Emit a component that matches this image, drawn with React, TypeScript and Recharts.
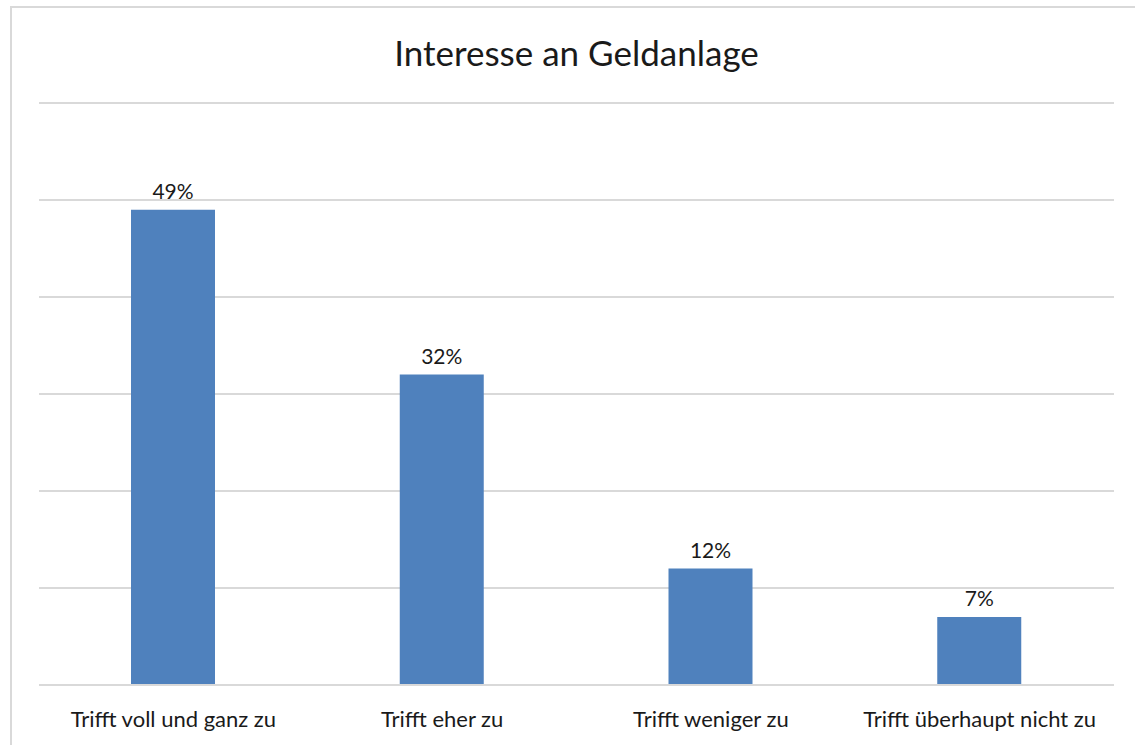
import React from 'react';
import { BarChart, Bar, XAxis, YAxis, CartesianGrid, LabelList } from 'recharts';

const categories = ['Trifft voll und ganz zu', 'Trifft eher zu', 'Trifft weniger zu', 'Trifft überhaupt nicht zu'];
const values = [49, 32, 12, 7];
const yTicks = [0, 10, 20, 30, 40, 50, 60];

const data = categories.map((name, i) => ({ name, value: values[i] }));

const FONT = 'Lato, "Open Sans", sans-serif';

export default function App() {
    return (
        <div style={{ position: 'absolute', left: 0, top: 0, width: 1135, height: 745, overflow: 'hidden', background: '#fff', fontFamily: FONT }}>
            {/* chart frame, right and bottom edges fall outside the picture */}
            <div style={{ position: 'absolute', left: 10, top: 6, width: 1140, height: 760, border: '2px solid #d9d9d9', boxSizing: 'border-box' }} />
            <div style={{ position: 'absolute', left: 39, width: 1075, top: 31, textAlign: 'center', fontSize: 35, lineHeight: '42px', color: '#1a1a1a' }}>
                Interesse an Geldanlage
            </div>
            <div style={{ position: 'absolute', left: 0, top: 0 }}>
                <BarChart width={1135} height={745} data={data} margin={{ top: 103, right: 21, bottom: 10, left: 39 }} barSize={84}>
                    <CartesianGrid horizontal vertical={false} stroke="#d9d9d9" strokeWidth={2} />
                    <YAxis hide domain={[0, 60]} ticks={yTicks} />
                    <XAxis
                        dataKey="name"
                        height={50}
                        axisLine={{ stroke: '#d9d9d9', strokeWidth: 2 }}
                        tickLine={false}
                        tickMargin={20}
                        interval={0}
                        tick={{ fill: '#1a1a1a', fontSize: 22, fontFamily: FONT }}
                    />
                    <Bar dataKey="value" fill="#4f81bd" isAnimationActive={false}>
                        <LabelList dataKey="value" position="top" offset={11} formatter={(v: any) => `${v}%`} style={{ fill: '#1a1a1a', fontSize: 21, fontFamily: FONT }} />
                    </Bar>
                </BarChart>
            </div>
        </div>
    );
}
